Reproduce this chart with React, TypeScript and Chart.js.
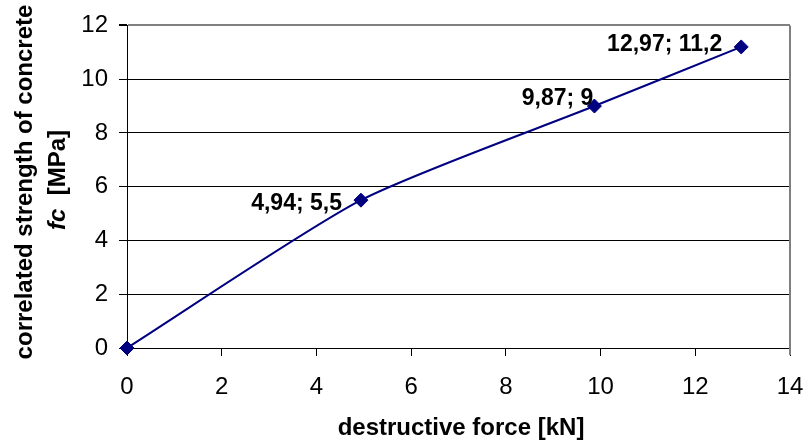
import React, { useEffect, useRef } from 'react';
import { Chart, registerables } from 'chart.js';

Chart.register(...registerables);

// ---- data ----
const forceKN = [0, 4.94, 9.87, 12.97];
const strengthMPa = [0, 5.5, 9, 11.2];
const xAxisTitle = 'destructive force [kN]';
const yAxisTitleLine1 = 'correlated strength of concrete';
const yAxisTitleItalic = 'fc';
const yAxisTitleRest = '  [MPa]';
// label offsets (dx to the left of point, dy vertical) per point; null = no label
const labelOffsets: (number[] | null)[] = [null, [19, 4], [1, -7], [19, -2]];

const FONT = '"Liberation Sans", Arial, Helvetica, sans-serif';

const fmt = (v: number) => String(v).replace('.', ',');

export default function App() {
  const ref = useRef<HTMLCanvasElement | null>(null);

  useEffect(() => {
    if (!ref.current) return;
    const points = forceKN.map((x, i) => ({ x, y: strengthMPa[i] }));

    const decor = {
      id: 'decor',
      beforeDatasetsDraw(chart: any) {
        const { ctx, chartArea } = chart;
        ctx.save();
        ctx.strokeStyle = '#808080';
        ctx.lineWidth = 2;
        ctx.beginPath();
        ctx.moveTo(chartArea.right, chartArea.top);
        ctx.lineTo(chartArea.right, chartArea.bottom + 7);
        ctx.stroke();
        ctx.restore();
      },
      afterDatasetsDraw(chart: any) {
        const { ctx } = chart;
        const meta = chart.getDatasetMeta(0);
        ctx.save();
        ctx.font = `bold 23px ${FONT}`;
        ctx.fillStyle = '#000';
        ctx.textAlign = 'right';
        ctx.textBaseline = 'middle';
        meta.data.forEach((el: any, i: number) => {
          const off = labelOffsets[i];
          if (!off) return;
          ctx.fillText(`${fmt(forceKN[i])}; ${fmt(strengthMPa[i])}`, el.x - off[0], el.y + off[1]);
        });
        ctx.restore();
      },
      afterDraw(chart: any) {
        const { ctx } = chart;
        ctx.save();
        ctx.fillStyle = '#000';
        ctx.textBaseline = 'middle';
        // x title
        ctx.font = `bold 24px ${FONT}`;
        ctx.textAlign = 'center';
        ctx.fillText(xAxisTitle, 461, 428);
        // y title line 1
        ctx.save();
        ctx.translate(25, 182);
        ctx.rotate(-Math.PI / 2);
        ctx.fillText(yAxisTitleLine1, 0, 0);
        ctx.restore();
        // y title line 2
        ctx.save();
        ctx.translate(58, 180);
        ctx.rotate(-Math.PI / 2);
        ctx.textAlign = 'left';
        ctx.font = `italic bold 24px ${FONT}`;
        const w1 = ctx.measureText(yAxisTitleItalic).width;
        ctx.font = `bold 24px ${FONT}`;
        const w2 = ctx.measureText(yAxisTitleRest).width;
        const start = -(w1 + w2) / 2;
        ctx.font = `italic bold 24px ${FONT}`;
        ctx.fillText(yAxisTitleItalic, start, 0);
        ctx.font = `bold 24px ${FONT}`;
        ctx.fillText(yAxisTitleRest, start + w1, 0);
        ctx.restore();
        ctx.restore();
      },
    };

    const chart = new Chart(ref.current, {
      type: 'scatter',
      data: {
        datasets: [
          {
            data: points,
            showLine: true,
            borderColor: '#000080',
            backgroundColor: '#000080',
            borderWidth: 2,
            tension: 0.22,
            pointStyle: 'rectRot',
            pointRadius: 7,
            pointBorderWidth: 1,
            pointBackgroundColor: '#000080',
            pointBorderColor: '#000080',
            clip: false as any,
          },
        ],
      },
      options: {
        responsive: false,
        animation: false,
        layout: { padding: { left: 0, right: 0, top: 24, bottom: 0 } },
        plugins: {
          legend: { display: false },
          tooltip: { enabled: false },
          title: { display: false },
        },
        scales: {
          x: {
            type: 'linear',
            min: 0,
            max: 14,
            ticks: {
              stepSize: 2,
              color: '#000',
              font: { size: 24, family: FONT },
              padding: 17,
              maxRotation: 0,
            },
            grid: {
              drawOnChartArea: false,
              drawTicks: true,
              tickLength: 8,
              tickColor: '#000',
              color: '#000',
            },
            border: { color: '#000', width: 1 },
            afterFit: (s: any) => {
              s.height = 93;
              s.paddingRight = 17;
              s.paddingLeft = 0;
            },
          },
          y: {
            type: 'linear',
            min: 0,
            max: 12,
            ticks: {
              stepSize: 2,
              color: '#000',
              font: { size: 24, family: FONT },
              padding: 11,
            },
            grid: {
              color: (c: any) => (c.tick && c.tick.value === 12 ? '#808080' : '#000'),
              lineWidth: (c: any) => (c.tick && c.tick.value === 12 ? 2 : 1),
              tickColor: '#000',
              tickLength: 8,
            },
            border: { color: '#000', width: 1 },
            afterFit: (s: any) => {
              s.width = 127;
            },
          },
        },
      },
      plugins: [decor],
    });

    return () => chart.destroy();
  }, []);

  return (
    <div style={{ position: 'fixed', left: 0, top: 0, width: 807, height: 441, background: '#fff' }}>
      <canvas ref={ref} width={807} height={441} style={{ display: 'block' }} />
    </div>
  );
}
